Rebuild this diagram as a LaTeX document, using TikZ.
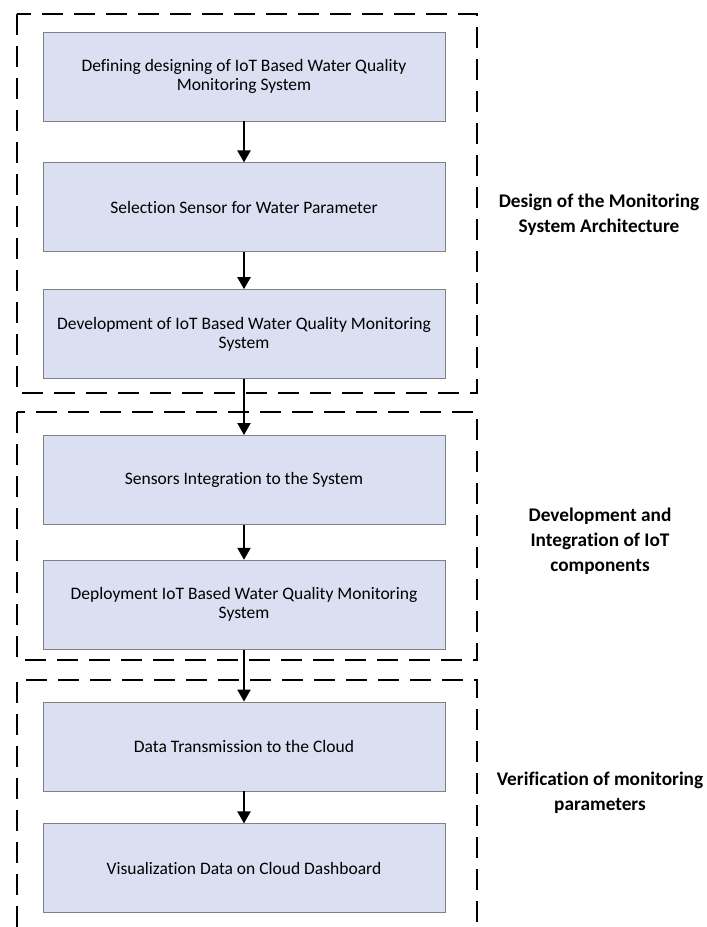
\documentclass[tikz,border=0pt]{standalone}
\usepackage{fontspec}
\setmainfont[Ligatures=CommonOff]{Carlito}
\usetikzlibrary{positioning,arrows.meta}
\definecolor{boxfill}{RGB}{218,224,242}
\definecolor{boxline}{RGB}{128,128,128}
\begin{document}
\begin{tikzpicture}[x=1pt,y=-1pt,
  stage/.style={draw=boxline,fill=boxfill,line width=0.8pt,
    minimum width=402pt,minimum height=89pt,inner sep=0pt,
    align=center,font=\fontsize{17.5}{19}\selectfont},
  flow/.style={line width=2.2pt,-{Triangle[length=12pt,width=13pt]}},
  frame/.style={line width=2.5pt,dash pattern=on 21pt off 11pt},
  phase/.style={align=center,font=\fontsize{19.3}{25}\selectfont\bfseries}]

  \useasboundingbox (0,0) rectangle (707,927);

  %% dashed groups
  \draw[frame] (17,14) rectangle (477,393);
  \draw[frame] (17,412) rectangle (477,660);
  \draw[frame] (17,927) -- (17,680) -- (477,680) -- (477,927);

  %% process steps
  \node[stage] (b1) at (244,76.5)
    {Defining designing of IoT Based Water Quality\\Monitoring System};
  \node[stage,below=41pt of b1] (b2) {Selection Sensor for Water Parameter};
  \node[stage,below=37pt of b2] (b3)
    {Development of IoT Based Water Quality Monitoring\\System};
  \node[stage,below=56pt of b3] (b4) {Sensors Integration to the System};
  \node[stage,below=35pt of b4] (b5)
    {Deployment IoT Based Water Quality Monitoring\\System};
  \node[stage,below=52pt of b5] (b6) {Data Transmission to the Cloud};
  \node[stage,below=32pt of b6] (b7) {Visualization Data on Cloud Dashboard};

  \draw[flow] (b1) -- (b2);
  \draw[flow] (b2) -- (b3);
  \draw[flow] (b3) -- (b4); %% crosses into the second group
  \draw[flow] (b4) -- (b5);
  \draw[flow] (b5) -- (b6); %% crosses into the third group
  \draw[flow] (b6) -- (b7);

  %% group titles
  \node[phase] (p1) at (599,215) {Design of the Monitoring\\System Architecture};
  \node[phase] (p2) at (600,541) {Development and\\Integration of IoT\\components};
  \node[phase] (p3) at (600,793) {Verification of monitoring\\parameters};

\end{tikzpicture}
\end{document}
